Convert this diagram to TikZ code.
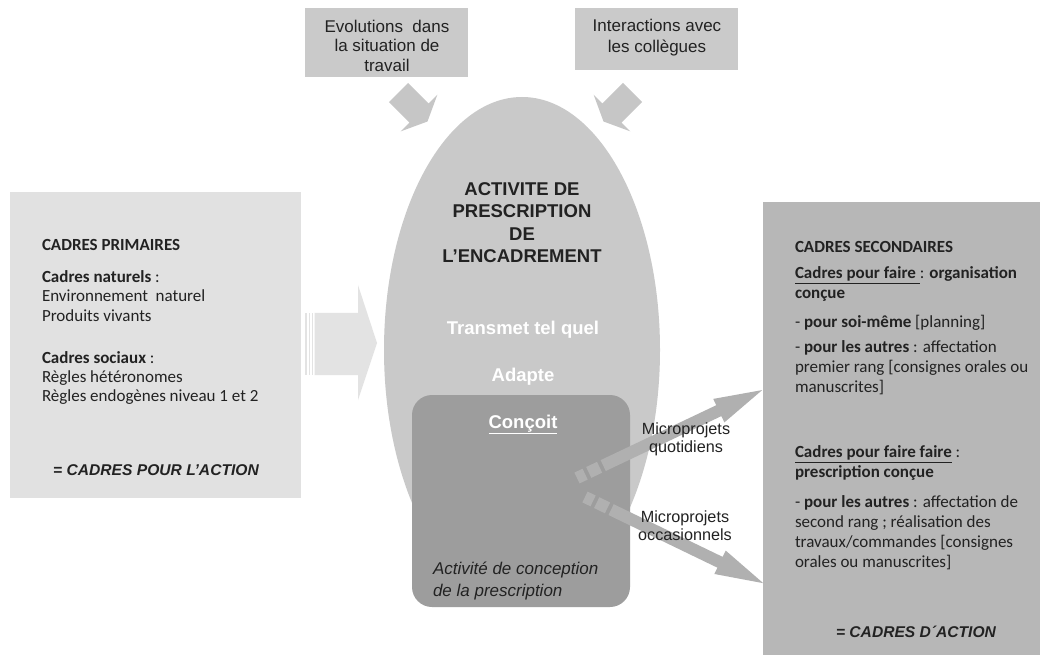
\documentclass[tikz,border=0pt]{standalone}
\usepackage{fontspec}
\setmainfont{Liberation Sans}
\newfontfamily\calib{Carlito}
\usetikzlibrary{shapes.geometric}
\definecolor{leftgray}{HTML}{E1E1E1}
\definecolor{egggray}{HTML}{C9C9C9}
\definecolor{topgray}{HTML}{CACACA}
\definecolor{innergray}{HTML}{9D9D9D}
\definecolor{rightgray}{HTML}{B7B7B7}
\definecolor{arrgray}{HTML}{C6C6C6}
\definecolor{larrgray}{HTML}{E3E3E3}
\definecolor{darrgray}{HTML}{B0B0B0}
\definecolor{txt}{HTML}{222222}
\begin{document}
\begin{tikzpicture}[x=1pt,y=-1pt,
  plain/.style={inner sep=0pt, outer sep=0pt},
  calibtext/.style={plain, align=left, text=txt, font=\calib\fontsize{17}{19.3}\selectfont},
  caltext/.style={plain, align=left, text=txt, font=\calib\fontsize{17}{20}\selectfont},
  toptext/.style={plain, align=center, text=txt, font=\fontsize{17}{19.5}\selectfont},
  eggtext/.style={plain, align=center, font=\bfseries\fontsize{18.5}{22.3}\selectfont},
  microtext/.style={plain, align=center, text=txt, font=\fontsize{16.2}{18}\selectfont},
  conclusion/.style={plain, text=txt, font=\bfseries\itshape\fontsize{15.6}{18}\selectfont}]
\useasboundingbox (0,0) rectangle (1045,655);
\fill[white] (0,0) rectangle (1045,655);

% left box
\node[plain, fill=leftgray, anchor=north west, minimum width=291pt, minimum height=306pt] (primaires) at (10,192) {};
\node[calibtext, anchor=north west] (ptext) at (42,239.5) {\textbf{CADRES PRIMAIRES}\\[12.7pt]
\textbf{Cadres naturels} :\\
Environnement~ naturel\\
Produits vivants\\[22.7pt]
\textbf{Cadres sociaux} :\\
Règles hétéronomes\\
Règles endogènes niveau 1 et 2};
\node[conclusion] (paction) at (156,470) {= CADRES POUR L’ACTION};

% left striped arrow
\fill[larrgray] (305,313) rectangle (307,375);
\fill[larrgray] (308.5,313) rectangle (310,375);
\fill[larrgray] (311.5,313) rectangle (313,375);
\fill[larrgray] (314.5,313) -- (358,313) -- (358,285) -- (377,343) -- (358,400) -- (358,375) -- (314.5,375) -- cycle;

% top boxes
\node[plain, fill=topgray, minimum width=163pt, minimum height=69pt] (evol) at (386.5,42.5) {};
\node[toptext] (evoltext) at (387,45.5) {Evolutions~ dans\\la situation de\\travail};
\node[plain, fill=topgray, minimum width=163pt, minimum height=62pt] (inter) at (656.5,39) {};
\node[toptext, font=\fontsize{17}{20.5}\selectfont] (intertext) at (657,37.5) {Interactions avec\\les collègues};

% top arrows
\begin{scope}[shift={(398.5,92.5)}, rotate=-45]
  \fill[arrgray] (0,-13.5) -- (29,-13.5) -- (29,-26) -- (41,0) -- (29,26) -- (29,13.5) -- (0,13.5) -- cycle;
\end{scope}
\begin{scope}[shift={(632.5,92.5)}, rotate=-135]
  \fill[arrgray] (0,-13.5) -- (29,-13.5) -- (29,-26) -- (41,0) -- (29,26) -- (29,13.5) -- (0,13.5) -- cycle;
\end{scope}

% egg
\node[plain, ellipse, fill=egggray, minimum width=276pt, minimum height=506pt] (egg) at (522,350) {};
\node[eggtext, text=txt] (title) at (522,222.5) {ACTIVITE DE\\PRESCRIPTION\\DE\\L’ENCADREMENT};
\node[eggtext, text=white] (transmet) at (523,330) {Transmet tel quel};
\node[eggtext, text=white] (adapte) at (523,377) {Adapte};

% inner box
\node[plain, fill=innergray, rounded corners=20pt, anchor=north west, minimum width=218pt, minimum height=212pt] (inner) at (412,395) {};
\node[eggtext, text=white, anchor=base] (concoit) at (523,428) {\underline{Conçoit}};
\node[plain, align=left, text=txt, font=\itshape\fontsize{17}{22}\selectfont, anchor=north west] (conception) at (433,562) {Activité de conception\\de la prescription};

% right box
\node[plain, fill=rightgray, anchor=north west, minimum width=277pt, minimum height=453pt] (secondaires) at (763,202) {};
\node[caltext, anchor=north west] (stext) at (795,241.5) {\textbf{CADRES SECONDAIRES}\\[6pt]
\textbf{\underline{Cadres pour faire }}: \textbf{organisation}\\
\textbf{conçue}\\[9pt]
- \textbf{pour soi-même} [planning]\\[5pt]
- \textbf{pour les autres} : affectation\\
premier rang [consignes orales ou\\
manuscrites]\\[45pt]
\textbf{\underline{Cadres pour faire faire}} :\\
\textbf{prescription conçue}\\[10pt]
- \textbf{pour les autres} : affectation de\\
second rang ; réalisation des\\
travaux/commandes [consignes\\
orales ou manuscrites]};
\node[conclusion] (saction) at (916,632) {= CADRES D´ACTION};

% dashed block arrows
\begin{scope}[shift={(577,478)}, rotate=25.4]
  \fill[darrgray] (0,-6) rectangle (9,6);
  \fill[darrgray] (13,-6) rectangle (25,6);
  \fill[darrgray] (29,-6) -- (157,-6) -- (157,-13) -- (205,0) -- (157,13) -- (157,6) -- (29,6) -- cycle;
\end{scope}
\begin{scope}[shift={(585,497)}, rotate=-25.8]
  \fill[darrgray] (0,-6) rectangle (9,6);
  \fill[darrgray] (13,-6) rectangle (25,6);
  \fill[darrgray] (29,-6) -- (150,-6) -- (150,-13) -- (198,0) -- (150,13) -- (150,6) -- (29,6) -- cycle;
\end{scope}
\node[microtext] (quotidiens) at (686,439) {Microprojets\\quotidiens};
\node[microtext] (occasionnels) at (685,525.4) {Microprojets\\occasionnels};
\end{tikzpicture}
\end{document}
